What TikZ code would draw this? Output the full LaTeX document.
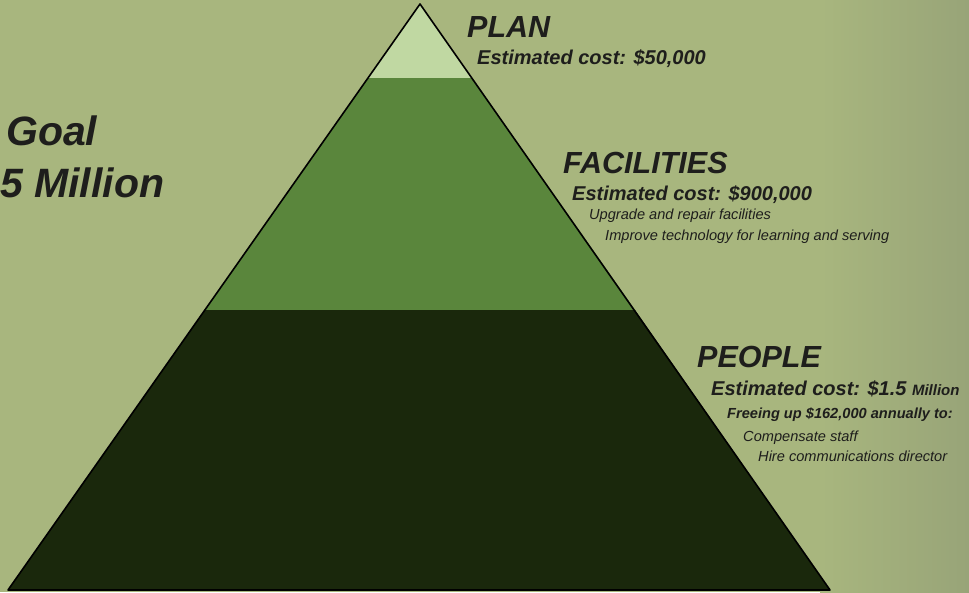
\documentclass[tikz,border=0pt]{standalone}
\usepackage{fontspec}
\setmainfont{Liberation Sans}
\definecolor{bg}{RGB}{168,182,126}
\definecolor{bgdark}{RGB}{152,164,120}
\definecolor{toplayer}{RGB}{192,216,162}
\definecolor{midlayer}{RGB}{90,134,60}
\definecolor{botlayer}{RGB}{26,40,12}
\definecolor{ink}{RGB}{30,30,28}
\tikzset{
  lbl/.style={anchor=base west, inner sep=0pt, text=ink, font=\bfseries\itshape},
  title/.style={lbl, font=\fontsize{30.5}{34}\selectfont\bfseries\itshape},
  cost/.style={lbl, font=\fontsize{20}{24}\selectfont\bfseries\itshape},
  sub/.style={lbl, font=\fontsize{14.6}{17}\selectfont\bfseries\itshape},
  item/.style={lbl, font=\fontsize{14.6}{17}\selectfont\itshape},
  goal/.style={lbl, font=\fontsize{41}{46}\selectfont\bfseries\itshape},
}
\begin{document}
\begin{tikzpicture}[x=1pt,y=-1pt]
\useasboundingbox (0,0) rectangle (969,592);
\fill[bg] (0,0) rectangle (969,592);
\shade[left color=bg, right color=bgdark] (820,0) rectangle (969,592);
% pyramid corners
\coordinate (apex) at (420,4);
\coordinate (bl) at (8,590);
\coordinate (br) at (830,590);
\coordinate (t1l) at (368,78);
\coordinate (t1r) at (472,78);
\coordinate (t2l) at (205,310);
\coordinate (t2r) at (635,310);
\fill[toplayer] (apex) -- (t1r) -- (t1l) -- cycle;
\fill[midlayer] (t1l) -- (t1r) -- (t2r) -- (t2l) -- cycle;
\fill[botlayer] (t2l) -- (t2r) -- (br) -- (bl) -- cycle;
\draw[black, line width=1.6pt, line join=round] (apex) -- (br) -- (bl) -- cycle;
% labels
\node[goal] (goal1) at (6,145) {Goal};
\node[goal] (goal2) at (0,197) {5 Million};
\node[title] (plan) at (467,37) {PLAN};
\node[cost] (plancost) at (477,64) {Estimated cost: \$50,000};
\node[title] (fac) at (563,173) {FACILITIES};
\node[cost] (faccost) at (572,200) {Estimated cost: \$900,000};
\node[item] (fac1) at (589,219) {Upgrade and repair facilities};
\node[item] (fac2) at (605,240) {Improve technology for learning and serving};
\node[title] (peo) at (697,367) {PEOPLE};
\node[cost] (peocost) at (711,395) {Estimated cost: \$1.5 {\fontsize{15}{18}\selectfont Million}};
\node[sub] (peo1) at (727,418) {Freeing up \$162,000 annually to:};
\node[item] (peo2) at (743,441) {Compensate staff};
\node[item] (peo3) at (758,461) {Hire communications director};
\end{tikzpicture}
\end{document}
